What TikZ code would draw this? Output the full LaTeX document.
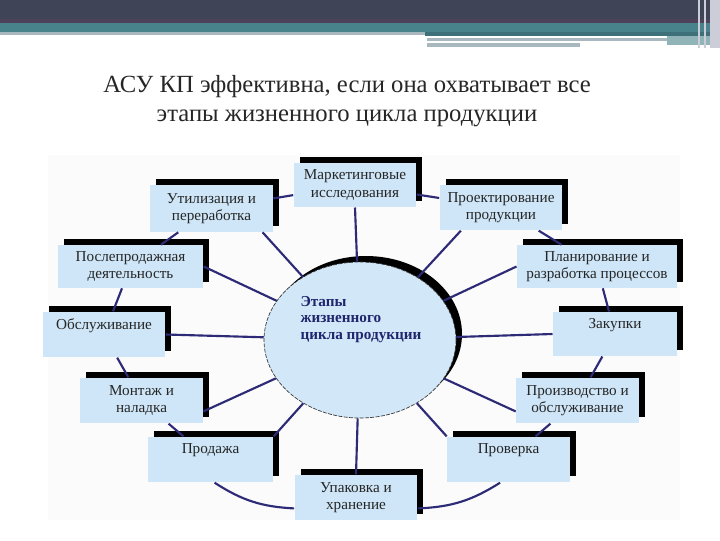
\documentclass[tikz,border=0pt]{standalone}
\usepackage{fontspec}
\setmainfont{Liberation Serif}
\usetikzlibrary{shapes.geometric,shadows}

\definecolor{bandDark}{RGB}{63,68,86}
\definecolor{bandPlum}{RGB}{76,66,90}
\definecolor{bandTeal}{RGB}{72,130,138}
\definecolor{bandTealDark}{RGB}{62,112,122}
\definecolor{bandGrey}{RGB}{168,184,190}
\definecolor{bandLilac}{RGB}{205,205,218}
\definecolor{panelGrey}{RGB}{251,251,251}
\definecolor{stageBlue}{RGB}{206,230,247}
\definecolor{hubBlue}{RGB}{210,231,247}
\definecolor{linkNavy}{RGB}{45,42,118}
\definecolor{hubText}{RGB}{30,38,110}
\definecolor{titleText}{RGB}{38,38,38}

\tikzset{every picture/.style={line width=0.75pt}}
\tikzset{
	stage/.style={fill=stageBlue, align=center, inner sep=2pt, minimum width=92pt, minimum height=34pt,
		font=\fontsize{11.4}{12.8}\selectfont, text=black!85,
		general shadow={fill=black, shadow xshift=4.5pt, shadow yshift=4.5pt}},
	oneline/.style={text depth=16pt},
	hub/.style={ellipse, fill=hubBlue, draw=black!80, line width=0.5pt, dash pattern=on 3pt off 1pt,
		minimum width=144pt, minimum height=117pt, inner sep=0pt,
		general shadow={fill=black, shadow xshift=4.5pt, shadow yshift=4.5pt}},
	link/.style={draw=linkNavy, line width=1.6pt},
}

\begin{document}
\begin{tikzpicture}[x=0.75pt,y=0.75pt,yscale=-1,xscale=1]
				\useasboundingbox (0,0) rectangle (720,540);
				%Shape: Top band
				\fill[bandDark] (0,0) rectangle (720,20);
				\fill[bandPlum] (0,19) rectangle (720,23);
				\fill[bandTeal] (0,23) rectangle (720,32);
				\fill[bandGrey] (0,32) rectangle (425,35);
				\fill[bandTealDark] (425,32) rectangle (720,36);
				\fill[bandGrey] (427,38) rectangle (667,41);
				\fill[bandGrey] (427,43) rectangle (580,47);
				\fill[bandTeal!60] (667,36) rectangle (710,45);
				\fill[bandLilac] (710,0) rectangle (720,48);
				\draw[bandLilac, line width=1.5pt] (699,0) -- (699,48);
				\draw[bandLilac, line width=1.5pt] (705,0) -- (705,48);
				% Text Node
				\node[inner sep=0pt, align=center, text=titleText, font=\fontsize{18.5}{21.5}\selectfont] (title) at (347,101)
					{АСУ КП эффективна, если она охватывает все\\этапы жизненного цикла продукции};
				%Shape: Panel
				\fill[panelGrey] (48,155) rectangle (680,520);
				%Shape: Ellipse
				\node[hub] (hub) at (360,340) {};
				% Text Node
				\node[anchor=north west, inner sep=0pt, align=left, text=hubText, font=\fontsize{11.4}{12.2}\selectfont\bfseries] (hubtext) at (300,296)
					{Этапы\\жизненного\\цикла продукции};
				% Stage nodes
				\node[stage, minimum height=33pt] (mark) at (355,185) {Маркетинговые\\исследования};
				\node[stage] (proj) at (501,207.5) {Проектирование\\продукции};
				\node[stage, minimum width=120pt, minimum height=32pt] (plan) at (597,266.5) {Планирование и\\разработка процессов};
				\node[stage, oneline, minimum width=93pt, minimum height=33pt] (buy) at (615,334) {Закупки};
				\node[stage] (prod) at (577.5,400.5) {Производство и\\обслуживание};
				\node[stage, oneline] (check) at (508.5,459.5) {Проверка};
				\node[stage] (pack) at (356,497.5) {Упаковка и\\хранение};
				\node[stage, oneline, minimum width=94pt] (sale) at (210.5,459.5) {Продажа};
				\node[stage] (mont) at (141.5,400.5) {Монтаж и\\наладка};
				\node[stage, oneline] (serv) at (104,334.5) {Обслуживание};
				\node[stage, minimum width=109pt, minimum height=32pt] (post) at (130.5,266.5) {Послепродажная\\деятельность};
				\node[stage, minimum height=35pt] (util) at (211.5,208.5) {Утилизация и\\переработка};
				% Spokes
				\draw[link] (hub) -- (mark.south);
				\draw[link] (hub) -- (proj.210);
				\draw[link] (hub) -- (plan.west);
				\draw[link] (hub) -- (buy.west);
				\draw[link] (hub) -- (prod.190);
				\draw[link] (hub) -- (check.north west);
				\draw[link] (hub) -- (pack.north);
				\draw[link] (hub) -- (sale.north east);
				\draw[link] (hub) -- (mont.-10);
				\draw[link] (hub) -- (serv.east);
				\draw[link] (hub) -- (post.east);
				\draw[link] (hub) -- (util.-25);
				% Ring
				\draw[link] (mark) -- (util);
				\draw[link] (util) -- (post);
				\draw[link] (post) -- (serv);
				\draw[link] (serv) -- (mont);
				\draw[link] (mont) -- (sale);
				\draw[link] (sale.-80) to[bend left=15] (pack.190);
				\draw[link] (pack.-10) to[bend left=15] (check.-110);
				\draw[link] (check) -- (prod);
				\draw[link] (prod) -- (buy);
				\draw[link] (buy) -- (plan);
				\draw[link] (plan) -- (proj);
				\draw[link] (proj) -- (mark);
			\end{tikzpicture}
\end{document}
